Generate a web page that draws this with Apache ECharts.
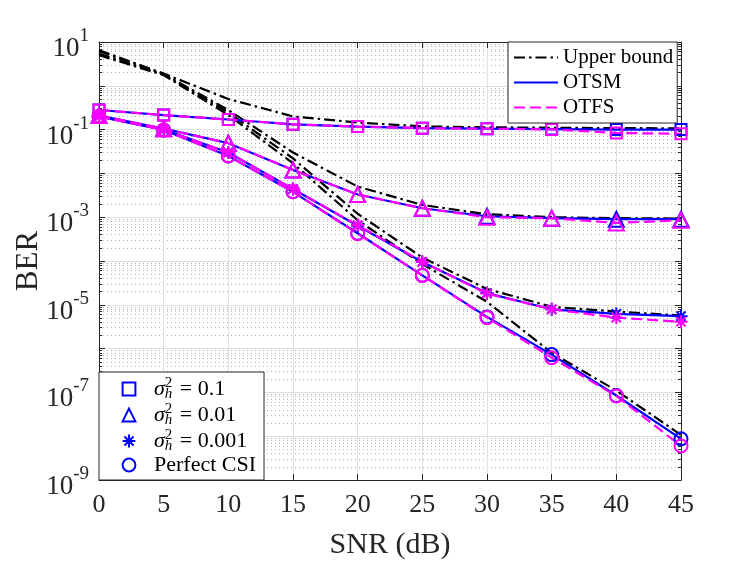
<!DOCTYPE html>
<html>
<head>
<meta charset="utf-8">
<title>BER vs SNR</title>
<script src="https://cdn.jsdelivr.net/npm/echarts@6.0.0/dist/echarts.min.js"></script>
<style>
html, body { margin: 0; padding: 0; background: #fff; }
#chart { width: 747px; height: 561px; }
</style>
</head>
<body>
<div id="chart"></div>
<script>
var snr = [0, 5, 10, 15, 20, 25, 30, 35, 40, 45];

// upper bounds (black dash-dot)
var boundVar01   = [6.5, 1.9, 0.5, 0.2, 0.145, 0.118, 0.113, 0.11, 0.108, 0.107];
var boundVar001  = [6.2, 1.85, 0.28, 0.03, 5.0e-3, 1.9e-3, 1.17e-3, 1.0e-3, 9.5e-4, 9.3e-4];
var boundVar0001 = [5.4, 1.8, 0.245, 0.022, 1.2e-3, 1.2e-4, 2.3e-5, 9.0e-6, 7.0e-6, 5.7e-6];
var boundPerfect = [5.0, 1.75, 0.215, 0.017, 8.5e-4, 8.5e-5, 1.17e-5, 8.0e-7, 1.1e-7, 1.07e-8];

// OTSM (blue solid)
var otsmVar01   = [0.28, 0.215, 0.17, 0.132, 0.117, 0.108, 0.105, 0.103, 0.1, 0.1];
var otsmVar001  = [0.21, 0.105, 0.049, 0.012, 3.3e-3, 1.6e-3, 1.05e-3, 9.5e-4, 9.0e-4, 9.0e-4];
var otsmVar0001 = [0.2, 0.1, 0.03, 4.4e-3, 6.4e-4, 9.5e-5, 1.85e-5, 7.9e-6, 6.2e-6, 5.5e-6];
var otsmPerfect = [0.2, 0.098, 0.025, 3.8e-3, 4.3e-4, 4.7e-5, 5.3e-6, 7.3e-7, 8.5e-8, 8.7e-9];

// OTFS (magenta dashed)
var otfsVar01   = [0.28, 0.215, 0.17, 0.132, 0.117, 0.108, 0.105, 0.101, 0.084, 0.08];
var otfsVar001  = [0.21, 0.105, 0.049, 0.012, 3.3e-3, 1.6e-3, 1.0e-3, 9.5e-4, 7.4e-4, 8.5e-4];
var otfsVar0001 = [0.2, 0.1, 0.03, 4.4e-3, 6.6e-4, 9.6e-5, 1.8e-5, 7.9e-6, 5.1e-6, 4.1e-6];
var otfsPerfect = [0.2, 0.098, 0.025, 3.8e-3, 4.2e-4, 4.7e-5, 5.1e-6, 6.2e-7, 8.3e-8, 6.0e-9];

var legendLines = ['Upper bound', 'OTSM', 'OTFS'];
var legendMarks = ['var01', 'var001', 'var0001', 'perfect'];
var markLabels = {
	var01: '{m|σ}{p|2}{h|h}{t| = 0.1}',
	var001: '{m|σ}{p|2}{h|h}{t| = 0.01}',
	var0001: '{m|σ}{p|2}{h|h}{t| = 0.001}',
	perfect: '{t|Perfect CSI}'
};

var FONT = "'Times New Roman', 'Liberation Serif', serif";
var BLUE = '#0000ff';
var MAGENTA = '#ff00ff';
var AXIS = '#262626';
var ASTERISK = 'path://M0,-10L0,10M-10,0L10,0M-7.07,-7.07L7.07,7.07M-7.07,7.07L7.07,-7.07';

var symbols = {
	var01: { symbol: 'rect', size: 11 },
	var001: { symbol: 'triangle', size: 15 },
	var0001: { symbol: ASTERISK, size: 13 },
	perfect: { symbol: 'circle', size: 13 }
};

var pts = function(vals) {
	return vals.map(function(v, i) {
		return [snr[i], v];
	});
};

function curve(name, vals, color, dash, key) {
	var s = {
		name: name,
		type: 'line',
		data: pts(vals),
		silent: true,
		lineStyle: { color: color, width: 2.2, type: dash },
		itemStyle: { color: 'rgba(0,0,0,0)', borderColor: color, borderWidth: 2 }
	};
	if (key) {
		s.symbol = symbols[key].symbol;
		s.symbolSize = symbols[key].size;
		s.showSymbol = true;
	} else {
		s.symbol = 'none';
	}
	return s;
}

var DASHDOT = [11, 4, 2.5, 4];
var DASHED = [11, 5];

var series = [
	curve('ub1', boundVar01, '#000', DASHDOT),
	curve('ub2', boundVar001, '#000', DASHDOT),
	curve('ub3', boundVar0001, '#000', DASHDOT),
	curve('ub4', boundPerfect, '#000', DASHDOT),
	curve('otsm1', otsmVar01, BLUE, 'solid', 'var01'),
	curve('otsm2', otsmVar001, BLUE, 'solid', 'var001'),
	curve('otsm3', otsmVar0001, BLUE, 'solid', 'var0001'),
	curve('otsm4', otsmPerfect, BLUE, 'solid', 'perfect'),
	curve('otfs1', otfsVar01, MAGENTA, DASHED, 'var01'),
	curve('otfs2', otfsVar001, MAGENTA, DASHED, 'var001'),
	curve('otfs3', otfsVar0001, MAGENTA, DASHED, 'var0001'),
	curve('otfs4', otfsPerfect, MAGENTA, DASHED, 'perfect'),
	// legend-only entries
	curve('Upper bound', [], '#000', DASHDOT),
	curve('OTSM', [], BLUE, 'solid'),
	curve('OTFS', [], MAGENTA, DASHED)
];
legendMarks.forEach(function(k) {
	var s = curve(k, [], BLUE, 'solid', k);
	s.lineStyle.opacity = 0;
	series.push(s);
});

function yLabel(v) {
	var e = Math.round(Math.log(v) / Math.LN10);
	if (Math.abs(e) % 2 !== 1) {
		return '';
	}
	return '{b|10}{s|' + e + '}';
}

var yAxisBase = {
	type: 'log',
	logBase: 10,
	min: 1e-9,
	max: 10,
	splitNumber: 10,
	axisLine: { show: true, onZero: false, lineStyle: { color: AXIS, width: 1 } },
	axisTick: { show: true, inside: true, length: 6, lineStyle: { color: AXIS } },
	minorTick: { show: true, splitNumber: 9, length: 3, lineStyle: { color: AXIS } }
};

var chart = echarts.init(document.getElementById('chart'));
chart.setOption({
	animation: false,
	backgroundColor: '#fff',
	grid: { left: 99, right: 66, top: 42, bottom: 81, containLabel: false, outerBoundsMode: 'none' },
	xAxis: [{
		type: 'value',
		min: 0,
		max: 45,
		interval: 5,
		position: 'bottom',
		name: 'SNR (dB)',
		nameLocation: 'middle',
		nameGap: 50,
		nameMoveOverlap: false,
		nameTextStyle: { fontFamily: FONT, fontSize: 30, color: AXIS },
		axisLine: { show: true, onZero: false, lineStyle: { color: AXIS, width: 1 } },
		axisTick: { show: true, inside: true, length: 6, lineStyle: { color: AXIS } },
		axisLabel: { fontFamily: FONT, fontSize: 26, color: AXIS, margin: 12 },
		splitLine: { show: true, lineStyle: { color: '#e0e0e0', width: 1 } }
	}, {
		type: 'value',
		min: 0,
		max: 45,
		interval: 5,
		position: 'top',
		axisLine: { show: true, onZero: false, lineStyle: { color: AXIS, width: 1 } },
		axisTick: { show: true, inside: true, length: 6, lineStyle: { color: AXIS } },
		axisLabel: { show: false },
		splitLine: { show: false }
	}],
	yAxis: [Object.assign({}, yAxisBase, {
		position: 'left',
		name: 'BER',
		nameLocation: 'middle',
		nameGap: 55,
		nameMoveOverlap: false,
		nameRotate: 90,
		nameTextStyle: { fontFamily: FONT, fontSize: 31, color: AXIS },
		axisLabel: {
			interval: 0,
			margin: 10,
			formatter: yLabel,
			padding: [5, 0, 0, 0],
			rich: {
				b: { fontFamily: FONT, fontSize: 27, color: AXIS, lineHeight: 36, verticalAlign: 'bottom' },
				s: { fontFamily: FONT, fontSize: 19, color: AXIS, verticalAlign: 'top' }
			}
		},
		splitLine: { show: true, lineStyle: { color: '#e0e0e0', width: 1 } },
		minorSplitLine: { show: true, lineStyle: { color: '#b4b4b4', width: 1, type: [1, 3] } }
	}), Object.assign({}, yAxisBase, {
		position: 'right',
		axisLabel: { show: false },
		splitLine: { show: false }
	})],
	legend: [{
		data: legendLines,
		orient: 'vertical',
		left: 508,
		top: 42,
		padding: [3, 4, 3, 5],
		itemWidth: 44,
		itemHeight: 14,
		itemGap: 0,
		selectedMode: false,
		backgroundColor: '#fff',
		borderColor: AXIS,
		borderWidth: 1,
		borderRadius: 0,
		itemStyle: { opacity: 0 },
		textStyle: { fontFamily: FONT, fontSize: 21, lineHeight: 25, color: '#000' }
	}, {
		data: legendMarks,
		orient: 'vertical',
		left: 99,
		bottom: 81,
		padding: [4, 8, 4, 9],
		itemWidth: 40,
		itemHeight: 16,
		itemGap: 0,
		selectedMode: false,
		backgroundColor: '#fff',
		borderColor: AXIS,
		borderWidth: 1,
		borderRadius: 0,
		lineStyle: { opacity: 0 },
		formatter: function(name) {
			return markLabels[name];
		},
		textStyle: {
			fontFamily: FONT,
			fontSize: 22,
			color: '#000',
			rich: {
				m: { fontFamily: FONT, fontSize: 22, fontStyle: 'italic', lineHeight: 26 },
				p: { fontFamily: FONT, fontSize: 15, width: 0, lineHeight: 26, verticalAlign: 'top' },
				h: { fontFamily: FONT, fontSize: 15, fontStyle: 'italic', lineHeight: 26, verticalAlign: 'bottom', padding: [0, 2, 0, 0] },
				t: { fontFamily: FONT, fontSize: 22, lineHeight: 26 }
			}
		}
	}],
	series: series
});
</script>
</body>
</html>
